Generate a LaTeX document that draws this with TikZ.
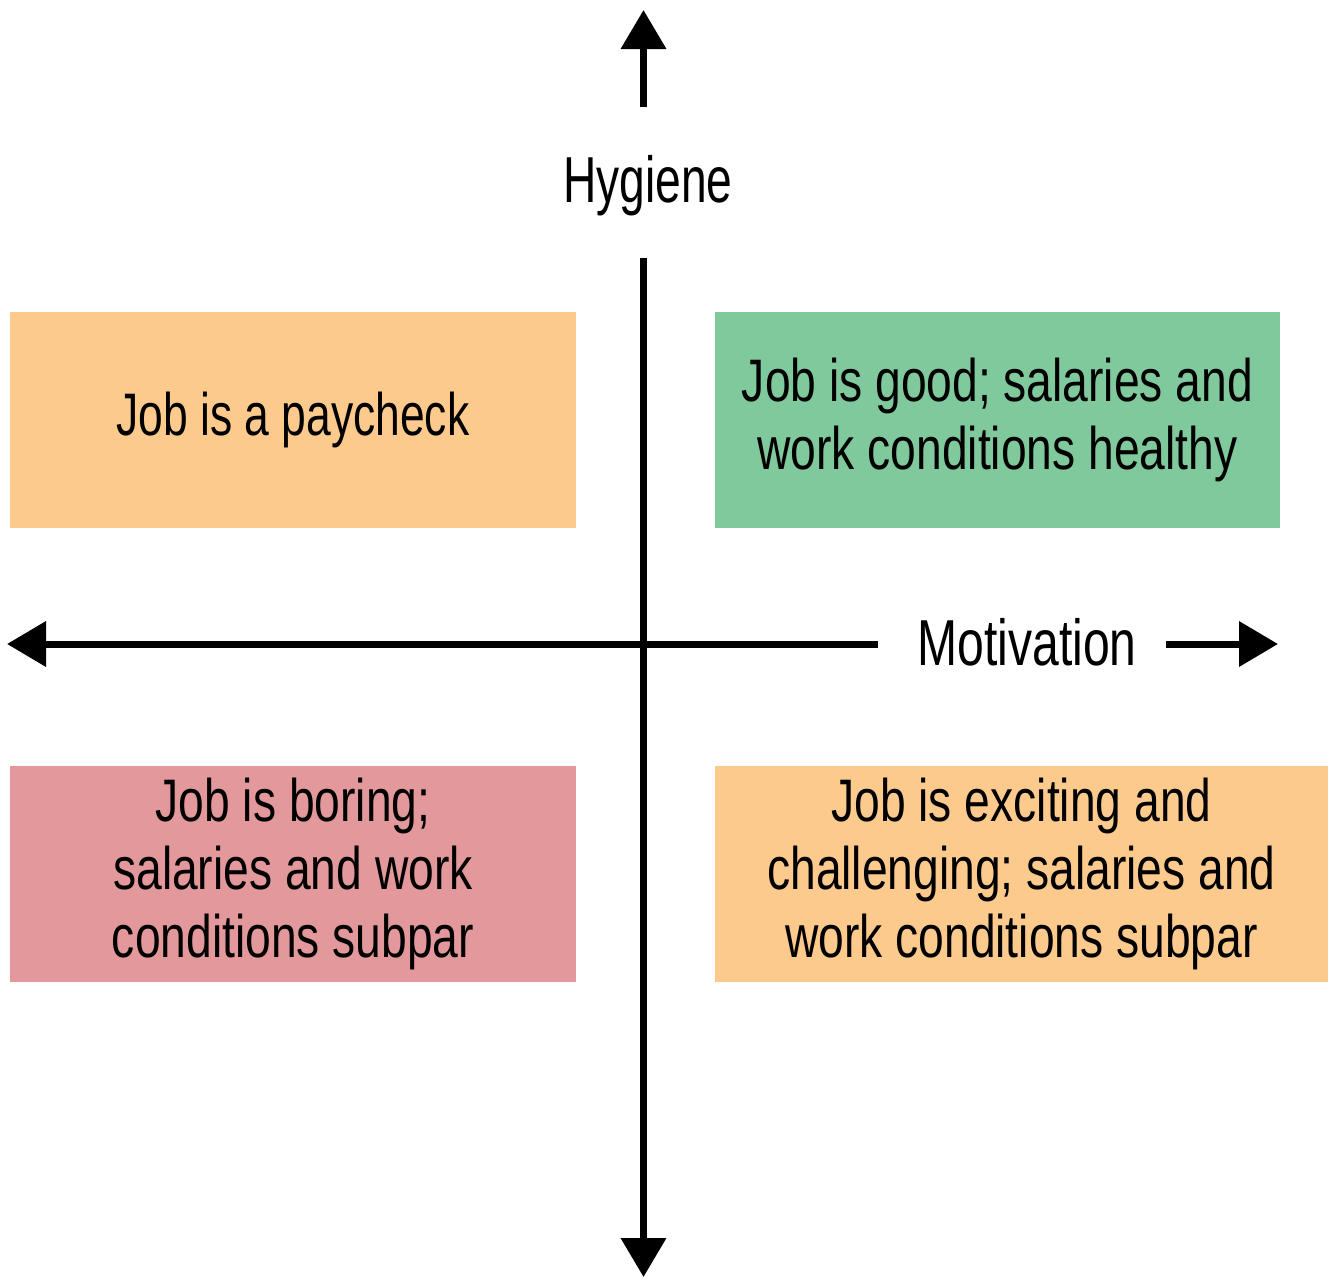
\documentclass[tikz,border=0pt]{standalone}
\usepackage{fontspec}
\setmainfont[FakeStretch=0.74]{Liberation Sans}
\newfontfamily\widerfont[FakeStretch=0.77]{Liberation Sans}
\newfontfamily\narrowfont[FakeStretch=0.71]{Liberation Sans}
\usetikzlibrary{arrows.meta}
\definecolor{qorange}{HTML}{FDCA8D}
\definecolor{qgreen}{HTML}{80C99D}
\definecolor{qpink}{HTML}{E3999C}
\begin{document}
\begin{tikzpicture}[x=1pt,y=-1pt,
  quad/.style={draw=none,inner sep=0pt,minimum height=216pt,align=center,
    font=\fontsize{60}{68}\selectfont},
  widequad/.style={quad,font=\widerfont\fontsize{60}{68}\selectfont},
  axislabel/.style={inner sep=0pt,anchor=base,font=\fontsize{65}{70}\selectfont},
  axis/.style={line width=7pt,-{Triangle[length=39pt,width=44pt]}}]
\useasboundingbox (0,0) rectangle (1328,1278);
% quadrant boxes
\node[quad,fill=qorange,minimum width=566pt] (tl) at (293,420) {Job is a paycheck};
\node[widequad,fill=qgreen,minimum width=565pt] (tr) at (997.5,420) {Job is good; salaries and\\work conditions healthy};
\node[widequad,fill=qpink,minimum width=566pt] (bl) at (293,874) {Job is boring;\\salaries and work\\conditions subpar};
\node[widequad,fill=qorange,minimum width=613pt] (br) at (1021.5,874) {Job is exciting and\\challenging; salaries and\\work conditions subpar};
% labels
\node[axislabel,font=\narrowfont\fontsize{65}{70}\selectfont] (hyg) at (648,202) {Hygiene};
\node[axislabel] (mot) at (1027,665) {Motivation};
% axis coordinates
\coordinate (upS) at (643.5,107);
\coordinate (upT) at (643.5,10);
\coordinate (vS) at (643.5,258);
\coordinate (vT) at (643.5,1277);
\coordinate (hS) at (878,644);
\coordinate (hT) at (7,644);
\coordinate (rS) at (1166,644);
\coordinate (rT) at (1278,644);
% axes
\draw[axis] (upS) -- (upT);
\draw[axis] (vS) -- (vT);
\draw[axis] (hS) -- (hT);
\draw[axis] (rS) -- (rT);
\end{tikzpicture}
\end{document}
